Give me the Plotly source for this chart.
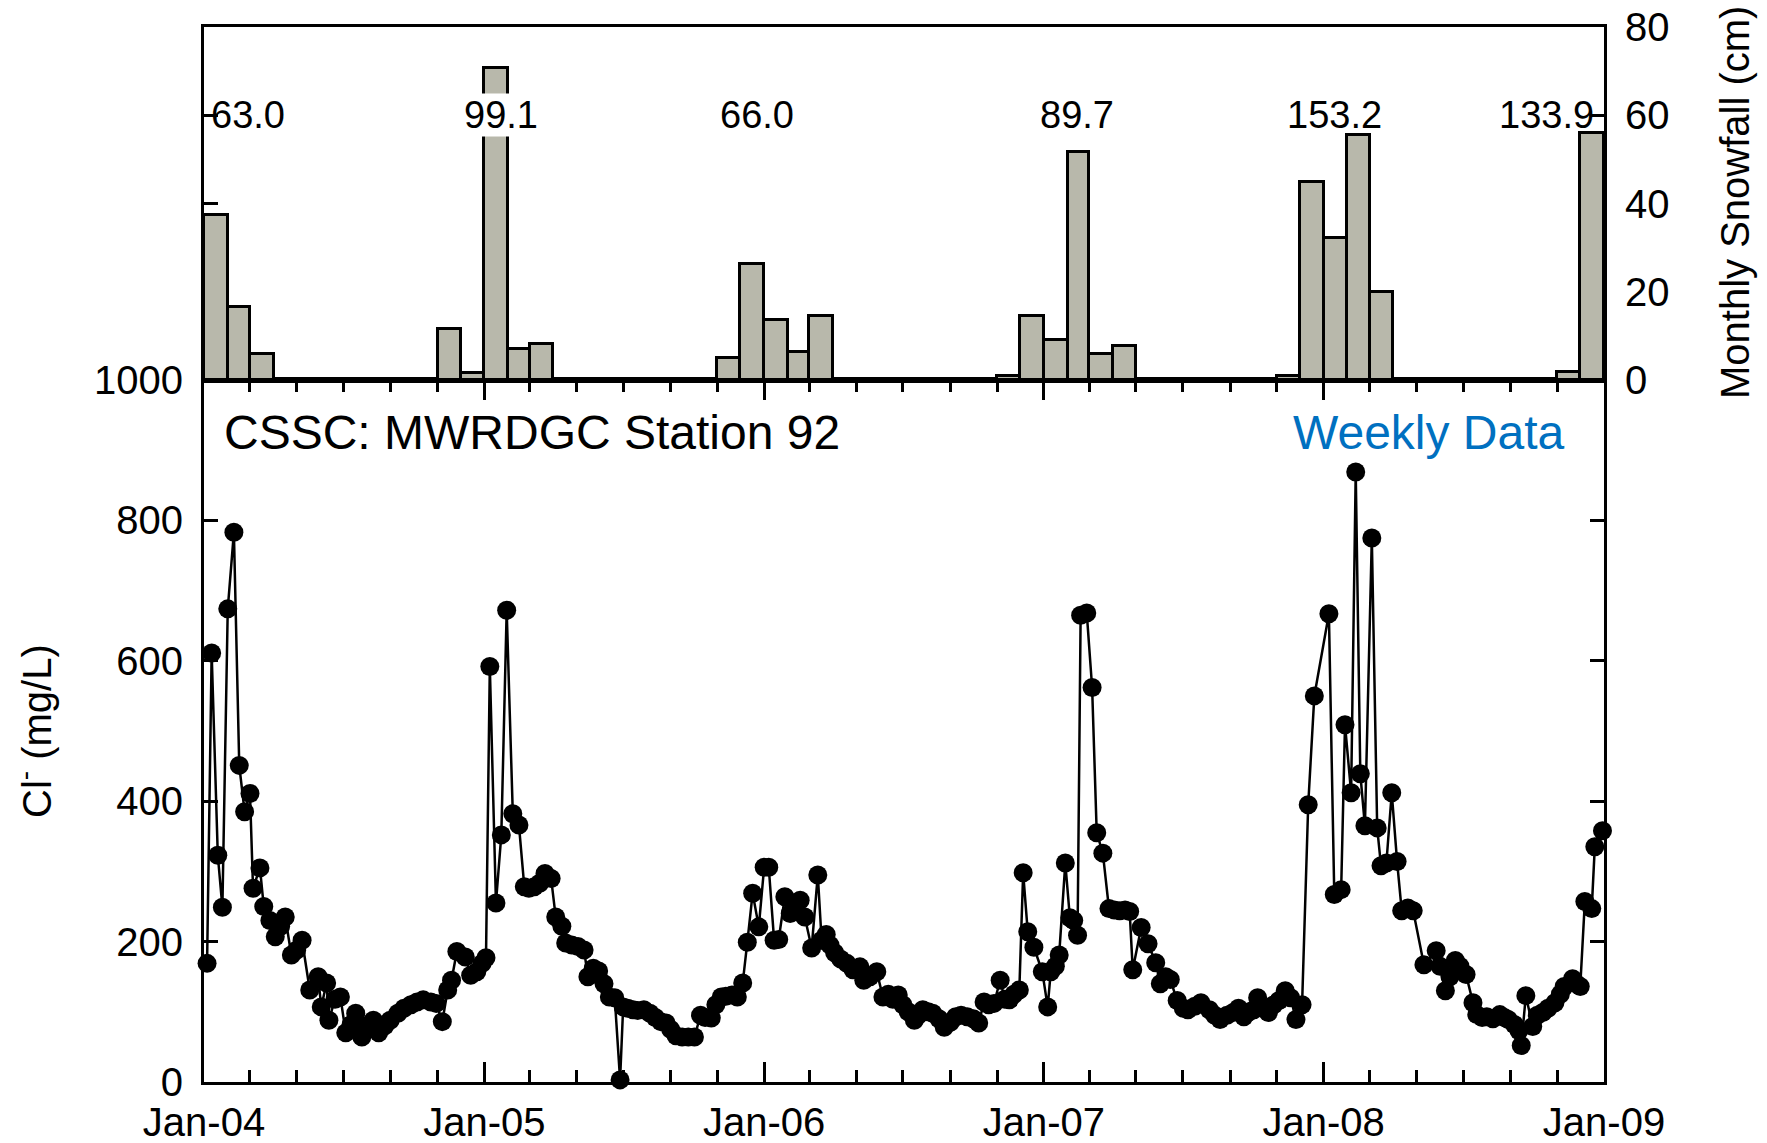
import pandas as pd
import plotly.graph_objects as go

# ---------------- data ----------------
# weekly chloride samples: day offset from 2004-01-01, value in mg/L
sample_day = [
    4, 10, 18, 24, 31, 39, 46, 53, 60, 64, 73, 78, 86, 93, 100, 106, 114, 121, 128, 138,
    149, 153, 160, 163, 171, 178, 185, 192, 198, 206, 213, 221, 228, 236, 243, 253, 261, 270, 278, 286,
    296, 303, 311, 318, 323, 330, 341, 348, 356, 363, 368,
    373, 381, 388, 395, 403, 411, 418, 424, 431, 438, 445, 453, 459, 467, 472, 480, 488, 496, 501,
    508, 515, 522, 529, 536, 543, 547, 553, 560, 566, 574, 582, 589, 596, 603, 609, 616, 624, 632, 640,
    648, 654, 662, 668, 675, 681, 689, 696, 703, 709, 716, 724, 731, 737,
    744, 750, 758, 765, 771, 778, 784, 793, 801, 806, 812, 817, 823, 831, 839, 847, 856, 861, 869, 878,
    886, 893, 899, 906, 912, 919, 927, 932, 938, 945, 951, 959, 966, 974, 981, 988, 996, 1004, 1011, 1018,
    1024, 1031, 1039, 1045, 1051, 1057, 1064, 1069, 1075, 1083, 1094, 1101,
    1105, 1111, 1116, 1124, 1130, 1135, 1140, 1144, 1152, 1159, 1165, 1173, 1181, 1188, 1195, 1202, 1208, 1212,
    1223, 1232, 1242, 1248, 1255, 1261, 1270, 1278, 1284, 1293, 1301, 1312, 1319, 1326, 1335, 1343, 1350, 1357,
    1364, 1370, 1375, 1383, 1389, 1396, 1403, 1411, 1418, 1425, 1433,
    1441, 1449, 1468, 1475, 1484, 1489, 1497, 1503, 1509, 1515, 1524, 1531, 1536, 1543, 1550, 1557, 1563, 1571,
    1578, 1592, 1608, 1613, 1620, 1626, 1633, 1639, 1647, 1656, 1661, 1668, 1674, 1682, 1691, 1697, 1702, 1710,
    1716, 1719, 1725, 1734, 1740, 1747, 1754, 1763, 1770, 1775, 1786, 1791, 1796, 1802, 1811, 1815, 1825,
]
chloride = [
    169, 611, 323, 249, 674, 783, 451, 385, 411, 276, 305, 250, 230, 207, 222, 235, 181, 188, 202, 131,
    150, 107, 141, 88, 118, 121, 70, 82, 98, 64, 80, 88, 70, 80, 88, 98, 105, 110, 114, 117,
    114, 112, 86, 131, 145, 186, 178, 152, 157, 169, 177,
    592, 255, 352, 672, 382, 366, 278, 276, 278, 283, 297, 290, 235, 222, 198, 195, 193, 188, 150,
    162, 158, 140, 121, 120, 3, 107, 105, 103, 102, 103, 98, 92, 86, 84, 75, 66, 64, 64, 64,
    95, 92, 91, 110, 121, 122, 124, 121, 141, 199, 269, 221, 306, 306,
    202, 203, 264, 240, 249, 259, 235, 191, 295, 202, 210, 195, 184, 175, 169, 160, 164, 145, 150, 157,
    121, 125, 118, 124, 110, 100, 88, 95, 103, 100, 98, 90, 78, 85, 93, 95, 93, 90, 84, 114,
    110, 112, 145, 118, 117, 125, 131, 298, 214, 192, 157, 107,
    157, 165, 181, 312, 234, 230, 209, 665, 668, 562, 355, 326, 247, 245, 244, 245, 243, 160,
    220, 197, 170, 140, 150, 146, 116, 105, 103, 108, 113, 103, 95, 89, 95, 99, 105, 93,
    100, 103, 120, 105, 99, 110, 116, 130, 120, 89, 110,
    395, 550, 667, 267, 274, 509, 412, 869, 439, 365, 775, 362, 308, 312, 412, 314, 244, 248,
    244, 167, 187, 165, 130, 150, 173, 165, 153, 113, 96, 92, 93, 90, 96, 92, 89, 82,
    73, 52, 123, 79, 95, 99, 105, 113, 125, 136, 147, 140, 136, 257, 247, 335, 358,
]

# monthly snowfall (months with snow only)
snow_months = [
    "2004-01", "2004-02", "2004-03",
    "2004-11", "2004-12", "2005-01", "2005-02", "2005-03",
    "2005-11", "2005-12", "2006-01", "2006-02", "2006-03",
    "2006-11", "2006-12", "2007-01", "2007-02", "2007-03", "2007-04",
    "2007-11", "2007-12", "2008-01", "2008-02", "2008-03",
    "2008-11", "2008-12",
]
snow_cm = [
    37.3, 16.5, 5.8,
    11.5, 1.6, 70.8, 7.0, 8.2,
    5.0, 26.3, 13.7, 6.4, 14.6,
    1.0, 14.6, 9.0, 51.6, 5.8, 7.7,
    0.8, 44.8, 32.2, 55.5, 19.9,
    1.8, 55.9,
]

# seasonal snowfall totals (cm) and where they are written
season_totals = ["63.0", "99.1", "66.0", "89.7", "153.2", "133.9"]
season_label_date = ["2004-02-27", "2005-01-23", "2005-12-23", "2007-02-13", "2008-01-15", "2008-10-18"]

# ---------------- figure ----------------
FONT = "Arial, Liberation Sans, sans-serif"
FS_TICK = 40
FS_TITLE = 40
FS_TOTAL = 38
FS_NOTE = 48
W, H = 1767, 1143
LW = 3
# which season labels sit on top of a bar (drawn with a white backing)
label_masks_bar = [False, True, False, False, False, False]

dates = pd.Timestamp("2004-01-01") + pd.to_timedelta(sample_day, unit="D")

m_start = pd.to_datetime([m + "-01" for m in snow_months])
m_end = m_start + pd.offsets.MonthBegin(1)
bar_centers = m_start + (m_end - m_start) / 2
bar_widths = [(e - s).total_seconds() * 1000 for s, e in zip(m_start, m_end)]

fig = go.Figure()

fig.add_trace(go.Bar(
    x=bar_centers, y=snow_cm, width=bar_widths,
    marker=dict(color="#b8b8ab", line=dict(color="black", width=3)),
    xaxis="x2", yaxis="y2", showlegend=False,
))

fig.add_trace(go.Scatter(
    x=dates, y=chloride, mode="lines+markers",
    line=dict(color="black", width=2.5),
    marker=dict(color="black", size=19),
    xaxis="x", yaxis="y", cliponaxis=False, showlegend=False,
))

xl, xr = 204 / W, 1604 / W
y_bot, y_mid, y_top = 1 - 1082 / H, 1 - 380 / H, 1 - 27 / H

axis_common = dict(showgrid=False, zeroline=False, showline=True, linecolor="black",
                   linewidth=LW, tickcolor="black", tickwidth=LW, automargin=False,
                   tickfont=dict(family=FONT, size=FS_TICK, color="black"))

fig.update_layout(
    width=W, height=H,
    margin=dict(l=0, r=0, t=0, b=0, autoexpand=False),
    paper_bgcolor="white", plot_bgcolor="white",
    bargap=0,
    xaxis=dict(domain=[xl, xr], anchor="y", type="date",
               range=["2004-01-01", "2009-01-01"], tick0="2004-01-01", dtick="M12",
               tickformat="%b-%y", ticks="inside", ticklen=20, mirror="ticks",
               ticklabelstandoff=3,
               minor=dict(dtick="M2", ticks="inside", ticklen=12, tickwidth=LW, tickcolor="black"),
               **axis_common),
    yaxis=dict(domain=[y_bot, y_mid], anchor="x", range=[0, 1000], dtick=200,
               ticks="inside", ticklen=14, mirror="ticks", ticklabelstandoff=10,
               **axis_common),
    xaxis2=dict(domain=[xl, xr], anchor="y2", matches="x", type="date",
                showticklabels=False, ticks="", mirror=True,
                **{k: v for k, v in axis_common.items() if k != "tickfont"}),
    yaxis2=dict(domain=[y_mid, y_top], anchor="x2", range=[0, 80], dtick=20, side="right",
                ticks="inside", ticklen=14, mirror="ticks", ticklabelstandoff=10,
                layer="below traces",
                **axis_common),
)

annotations = [
    dict(text="CSSC: MWRDGC Station 92", xref="paper", yref="paper",
         x=222 / W, y=1 - 432 / H, xanchor="left", yanchor="middle", showarrow=False,
         font=dict(family=FONT, size=FS_NOTE, color="black")),
    dict(text="Weekly Data", xref="paper", yref="paper",
         x=1567 / W, y=1 - 432 / H, xanchor="right", yanchor="middle", showarrow=False,
         font=dict(family=FONT, size=FS_NOTE, color="#0070C0")),
    dict(text="Cl<sup>-</sup> (mg/L)", xref="paper", yref="paper",
         x=34 / W, y=1 - 731 / H, xanchor="center", yanchor="middle", showarrow=False,
         textangle=-90, font=dict(family=FONT, size=FS_TITLE, color="black")),
    dict(text="Monthly Snowfall (cm)", xref="paper", yref="paper",
         x=1735 / W, y=1 - 203 / H, xanchor="center", yanchor="middle", showarrow=False,
         textangle=-90, font=dict(family=FONT, size=FS_TITLE, color="black")),
]
for lab, d, masked in zip(season_totals, season_label_date, label_masks_bar):
    annotations.append(dict(text=lab, xref="x2", yref="y2", x=d, y=60,
                            xanchor="center", yanchor="middle", showarrow=False,
                            bgcolor="white" if masked else "rgba(0,0,0,0)", borderpad=0,
                            font=dict(family=FONT, size=FS_TOTAL, color="black")))
fig.update_layout(annotations=annotations)

fig.write_html("out.html")
